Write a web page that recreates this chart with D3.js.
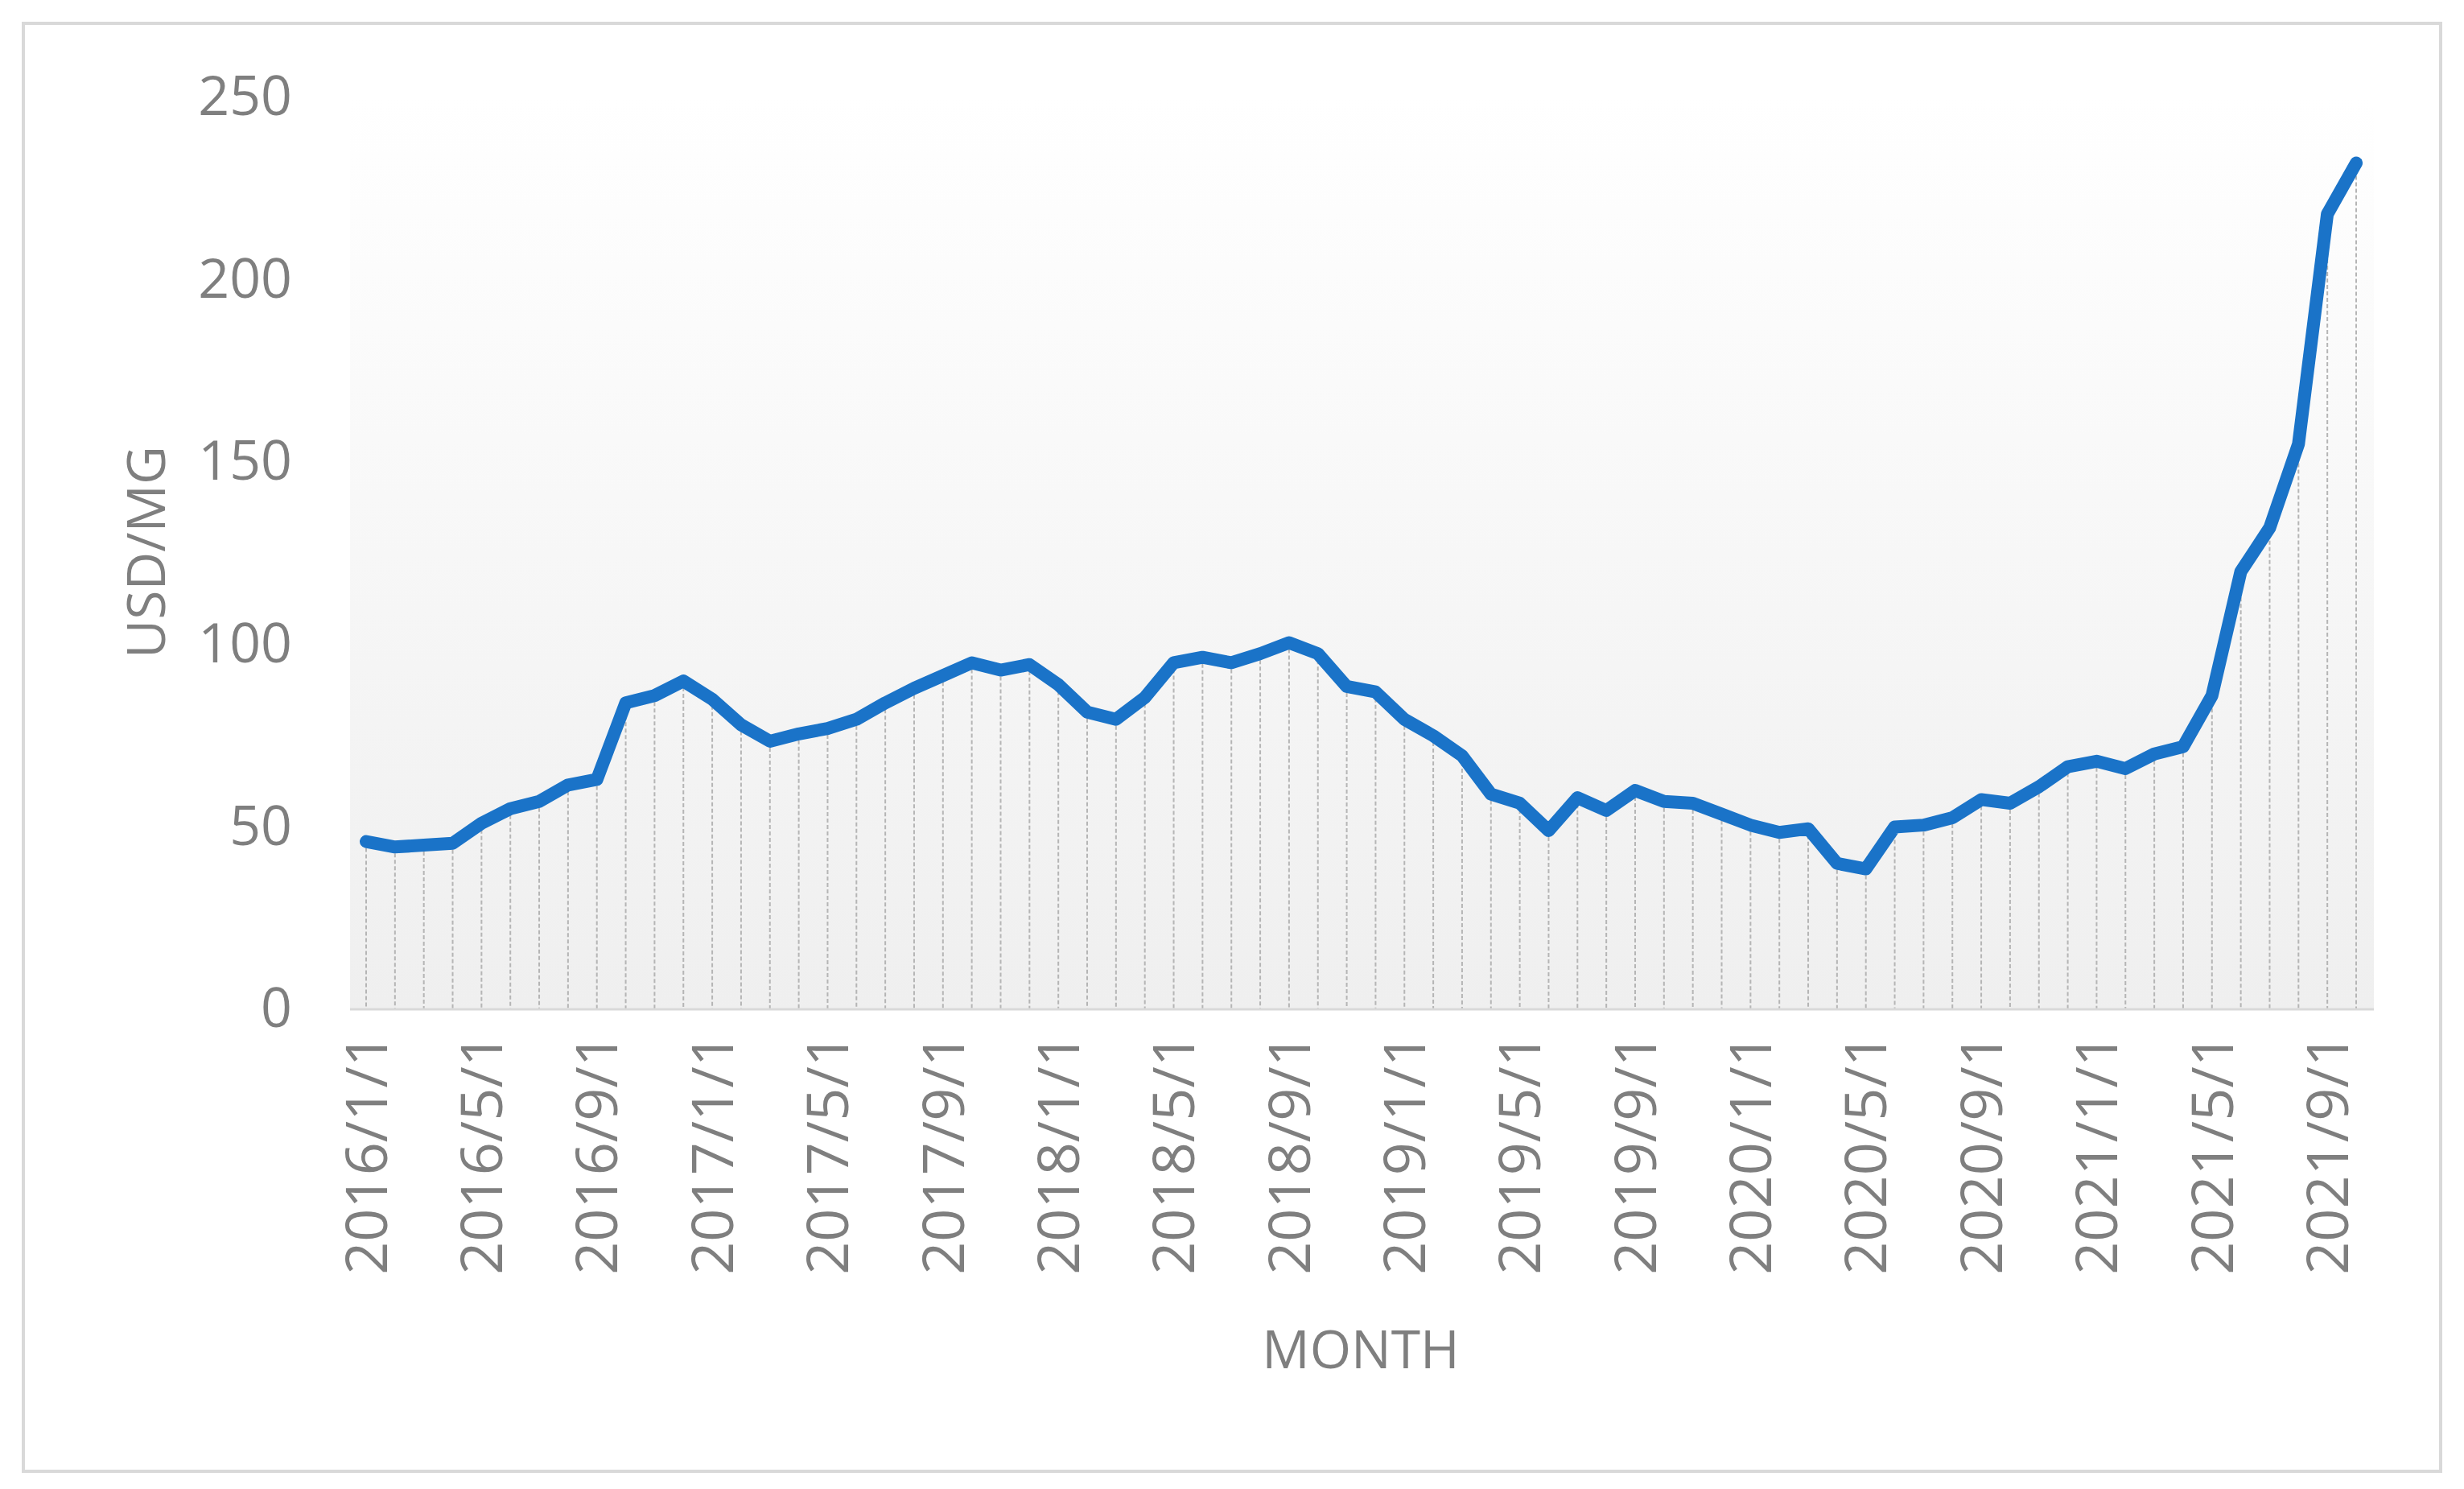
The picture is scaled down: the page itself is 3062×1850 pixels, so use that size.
<!DOCTYPE html>
<html><head><meta charset="utf-8">
<script src="https://cdn.jsdelivr.net/npm/d3@7"></script>
<style>body{margin:0;background:#fff}svg{display:block}</style>
</head><body>
<script>
const months = [];
for (let y = 2016; y <= 2021; y++) for (let m = 1; m <= 12; m++) { if (y === 2021 && m > 10) break; months.push(y + "/" + m + "/1"); }
const prices = [46,44.5,45,45.5,51,55,57,61.5,63,84,86,90,
 85,78,73.5,75.5,77,79.5,84,88,91.5,95,93,94.5,
 89,81.5,79.5,85.5,95,96.5,95,97.5,100.5,97.5,88.5,87,
 79.5,75,69.5,59,56.5,49,58,54.5,60,57,56.5,53.5,
 50.5,48.5,49.5,40,38.5,50,50.5,52.5,57.5,56.5,61,66.5,
 68,66,70,72,86,120,132,155,218,232];
const yTicks = [0,50,100,150,200,250];
const tickMonths = months.filter((d,i)=>i%4===0);

const W=3062,H=1850;
const svg=d3.select("body").append("svg").attr("width",W).attr("height",H);
svg.append("rect").attr("x",29).attr("y",29).attr("width",3004).attr("height",1799)
  .attr("fill","#fff").attr("stroke","#d9d9d9").attr("stroke-width",4);
const L=435,R=2950,T=121,B=1254;
const x=d3.scalePoint().domain(months).range([L+20,R-22]);
const y=d3.scaleLinear().domain([0,250]).range([B,T]);
const defs=svg.append("defs");
const g=defs.append("linearGradient").attr("id","bg").attr("x1",0).attr("y1",0).attr("x2",0).attr("y2",1);
g.append("stop").attr("offset","0").attr("stop-color","#ffffff");
g.append("stop").attr("offset","1").attr("stop-color","#efefef");
svg.append("rect").attr("x",L).attr("y",T).attr("width",R-L).attr("height",B-T).attr("fill","url(#bg)");
svg.append("g").selectAll("line").data(prices).join("line")
 .attr("x1",(d,i)=>x(months[i])).attr("x2",(d,i)=>x(months[i]))
 .attr("y1",d=>y(d)).attr("y2",B)
 .attr("stroke","#b5b5b5").attr("stroke-width",2).attr("stroke-dasharray","5,3");
svg.append("line").attr("x1",L).attr("x2",R).attr("y1",B).attr("y2",B).attr("stroke","#d9d9d9").attr("stroke-width",3);
svg.append("path").datum(prices).attr("fill","none").attr("stroke","#1a73c8").attr("stroke-width",16)
 .attr("stroke-linejoin","round").attr("stroke-linecap","round")
 .attr("d",d3.line().x((d,i)=>x(months[i])).y(d=>y(d)));
const font="'Open Sans', 'Liberation Sans', sans-serif";
const ya=svg.append("g").attr("transform",`translate(${L},0)`).call(d3.axisLeft(y).tickValues(yTicks).tickSize(0).tickPadding(72));
ya.select(".domain").remove();
ya.selectAll("text").attr("font-size",68).attr("fill","#7f7f7f").attr("font-family",font);
const xa=svg.append("g").attr("transform",`translate(0,${B})`).call(d3.axisBottom(x).tickValues(tickMonths).tickSize(0));
xa.select(".domain").remove();
xa.selectAll("text").attr("font-size",72).attr("fill","#7f7f7f").attr("font-family",font)
 .attr("transform","rotate(-90)").attr("text-anchor","end").attr("dy","0.35em").attr("x",-30).attr("y",0);
svg.append("text").attr("transform","translate(205,686) rotate(-90)").attr("text-anchor","middle")
 .attr("font-size",66).attr("fill","#7f7f7f").attr("font-family",font).text("USD/MG");
svg.append("text").attr("x",1691).attr("y",1700).attr("text-anchor","middle")
 .attr("font-size",66).attr("fill","#7f7f7f").attr("font-family",font).text("MONTH");
</script>
</body></html>
